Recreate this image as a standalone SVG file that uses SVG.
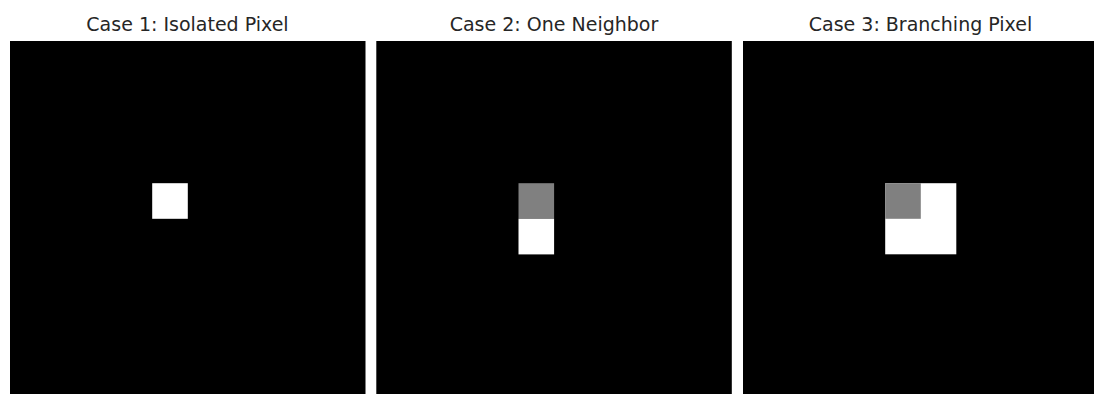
<svg xmlns="http://www.w3.org/2000/svg" width="1094" height="394" viewBox="0 0 1094 394">
<style>
.bg{fill:#ffffff}
.panel{fill:#000000}
.on{fill:#ffffff}
.mid{fill:#808080}
.title{font-family:"DejaVu Sans",sans-serif;font-size:19px;fill:#262626;text-anchor:middle}
</style>
<rect class="bg" x="0" y="0" width="1094" height="394"/>
<g id="case1">
<text class="title" x="187.5" y="30.5">Case 1: Isolated Pixel</text>
<rect class="panel" x="10" y="41" width="355.5" height="355.5"/>
<rect class="on" x="152.2" y="183.2" width="35.6" height="35.6"/>
</g>
<g id="case2">
<text class="title" x="554" y="30.5">Case 2: One Neighbor</text>
<rect class="panel" x="376.3" y="41" width="355.5" height="355.5"/>
<rect class="mid" x="518.5" y="183.2" width="35.6" height="35.6"/>
<rect class="on" x="518.5" y="218.8" width="35.6" height="35.6"/>
</g>
<g id="case3">
<text class="title" x="920.5" y="30.5">Case 3: Branching Pixel</text>
<rect class="panel" x="743" y="41" width="355.5" height="355.5"/>
<rect class="on" x="885.2" y="183.2" width="71.1" height="71.1"/>
<rect class="mid" x="885.2" y="183.2" width="35.6" height="35.6"/>
</g>
</svg>
